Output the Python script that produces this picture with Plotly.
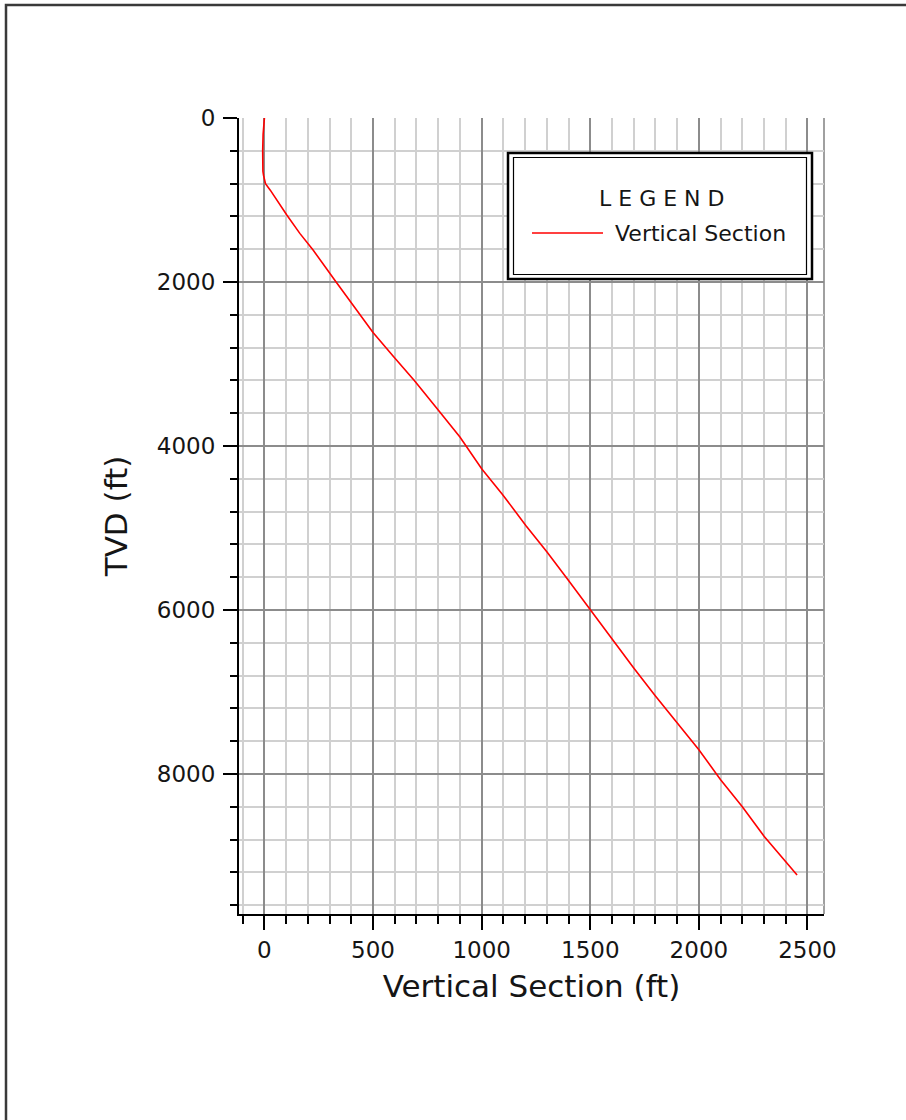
import plotly.graph_objects as go

# ---- data ----
tvd_ft = [0, 100, 200, 400, 600, 650, 700, 750, 800, 880, 960, 1000, 1183, 1407, 1610,
          2000, 2400, 2616, 2921, 3200, 3560, 3890, 4277, 4587, 4975, 5290,
          5640, 6000, 6400, 6706, 7048, 7373, 7703, 8070, 8400, 8758, 9070, 9232]
vs_ft = [0, -3, -6, -8, -8, -7, -4, 0, 5, 27, 46, 56, 103, 163, 224,
         330, 440, 500, 598, 690, 800, 900, 1000, 1095, 1205, 1300,
         1400, 1500, 1612, 1700, 1800, 1900, 2000, 2100, 2200, 2300, 2400, 2452]
x_ticks = [0, 500, 1000, 1500, 2000, 2500]
y_ticks = [0, 2000, 4000, 6000, 8000]
series_name = "Vertical Section"

W, H = 906, 1120
L, R, T, B = 239, 824, 118, 914


def px(x):
    return (x - L) / (R - L)


def py(y):
    return (B - y) / (B - T)


FONT = "DejaVu Sans"
TXT = "#151515"

fig = go.Figure(go.Scatter(x=vs_ft, y=tvd_ft, mode="lines", name=series_name,
                           line=dict(color="#ff0000", width=1.6), showlegend=False))

fig.update_layout(
    width=W, height=H,
    margin=dict(l=L, r=W - R, t=T, b=H - B),
    paper_bgcolor="white", plot_bgcolor="white",
    font=dict(family=FONT, color=TXT),
    xaxis=dict(
        range=[-117, 2576], tickvals=x_ticks, ticktext=[str(v) for v in x_ticks],
        ticks="outside", ticklen=14, tickwidth=2, tickcolor="black",
        showline=True, linecolor="black", linewidth=2,
        showgrid=True, gridcolor="#8c8c8c", gridwidth=1.5, zeroline=False,
        minor=dict(dtick=100, tick0=0, ticks="outside", ticklen=8, tickwidth=2,
                   tickcolor="black", showgrid=True, gridcolor="#d0d0d0", gridwidth=1.5),
        tickfont=dict(size=23, color=TXT),
        title=dict(text="Vertical Section (ft)", font=dict(size=31, color=TXT), standoff=14),
    ),
    yaxis=dict(
        range=[9707, 0], tickvals=y_ticks, ticktext=[str(v) for v in y_ticks],
        ticks="outside", ticklen=14, tickwidth=2, tickcolor="black",
        showline=True, linecolor="black", linewidth=2,
        showgrid=True, gridcolor="#8c8c8c", gridwidth=1.5, zeroline=False,
        minor=dict(dtick=400, tick0=0, ticks="outside", ticklen=7, tickwidth=2,
                   tickcolor="black", showgrid=True, gridcolor="#d0d0d0", gridwidth=1.5),
        tickfont=dict(size=23, color=TXT),
        ticklabelstandoff=3,
        title=dict(text="TVD (ft)", font=dict(size=31, color=TXT), standoff=20),
    ),
)

shapes = [
    # outer page frame
    dict(type="rect", xref="paper", yref="paper", x0=px(6), x1=px(925), y0=py(5), y1=py(1140),
         line=dict(color="#3a3a3a", width=2.5), fillcolor="rgba(0,0,0,0)", layer="above"),
    # right edge of plot
    dict(type="line", xref="paper", yref="paper", x0=1, x1=1, y0=0, y1=1,
         line=dict(color="#a0a0a0", width=2), layer="below"),
    # legend box (double border)
    dict(type="rect", xref="paper", yref="paper", x0=px(508), x1=px(812), y0=py(153), y1=py(279),
         line=dict(color="black", width=2.5), fillcolor="white", layer="above"),
    dict(type="rect", xref="paper", yref="paper", x0=px(513.5), x1=px(806.5), y0=py(157.5), y1=py(274.5),
         line=dict(color="black", width=1.2), fillcolor="rgba(0,0,0,0)", layer="above"),
    # legend sample
    dict(type="line", xref="paper", yref="paper", x0=px(532), x1=px(603), y0=py(233), y1=py(233),
         line=dict(color="#ff0000", width=1.6), layer="above"),
]
fig.update_layout(shapes=shapes)

fig.add_annotation(xref="paper", yref="paper", x=px(661), y=py(199), text="L E G E N D",
                   showarrow=False, xanchor="center", yanchor="middle",
                   font=dict(size=22, color=TXT, family=FONT))
fig.add_annotation(xref="paper", yref="paper", x=px(613), y=py(234), text=series_name,
                   showarrow=False, xanchor="left", yanchor="middle",
                   font=dict(size=22, color=TXT, family=FONT))

fig.write_html("out.html", config={"displayModeBar": False},
               post_script="document.body.style.margin='0';document.body.style.overflow='hidden';")
